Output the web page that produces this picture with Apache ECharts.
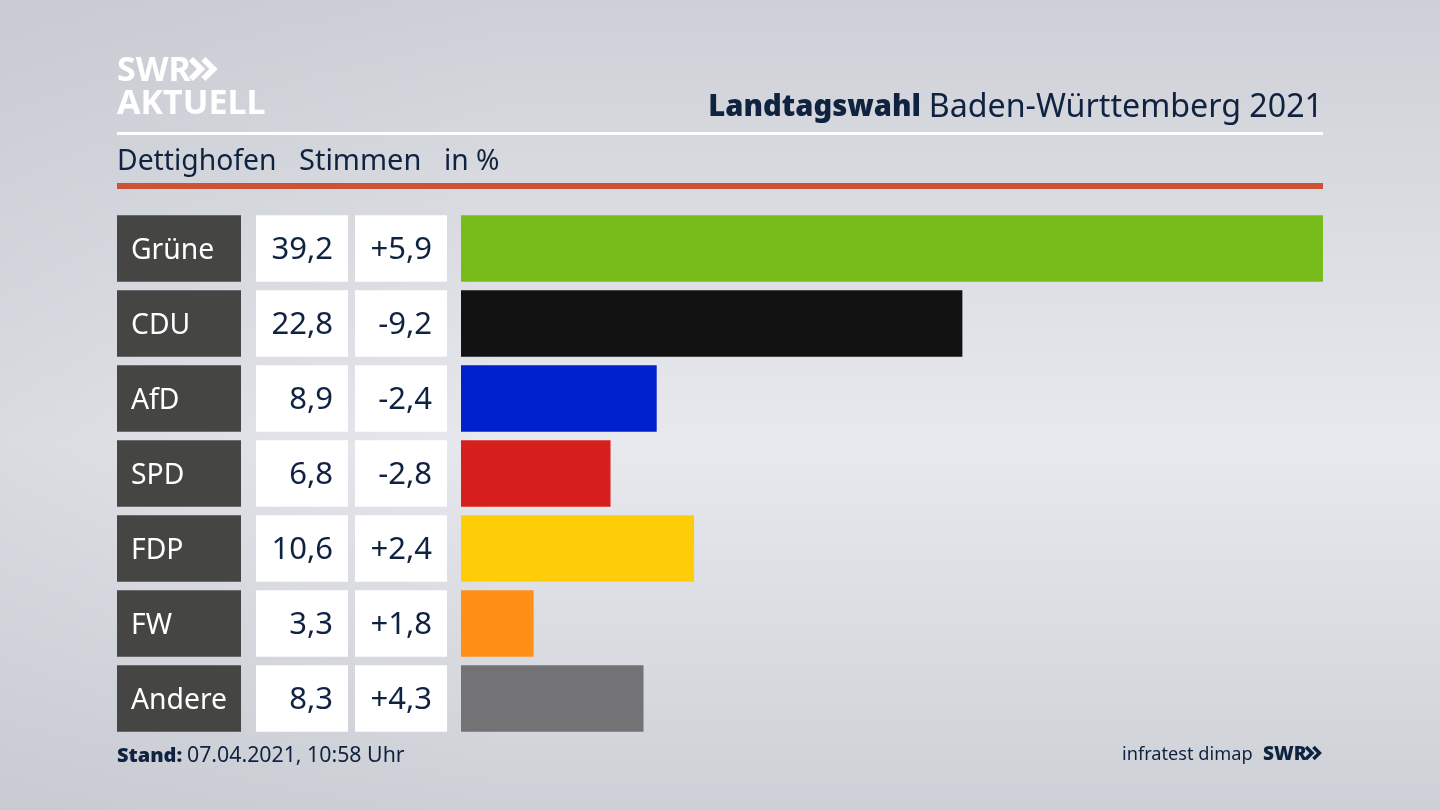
<!DOCTYPE html>
<html>
<head>
<meta charset="utf-8">
<style>
  html, body { margin: 0; padding: 0; }
  #chart { width: 1440px; height: 810px; }
</style>
<script src="https://cdn.jsdelivr.net/npm/echarts@6/dist/echarts.min.js"></script>
</head>
<body>
<div id="chart"></div>
<script>
const parties = ['Grüne', 'CDU', 'AfD', 'SPD', 'FDP', 'FW', 'Andere'];
const shares = [39.2, 22.8, 8.9, 6.8, 10.6, 3.3, 8.3];
const changes = [5.9, -9.2, -2.4, -2.8, 2.4, 1.8, 4.3];
const barColors = ['#78bc1b', '#121212', '#0022cc', '#d7201e', '#ffcc08', '#ff9015', '#737375'];

const FONT = '"Noto Sans", sans-serif';
const INK = '#0f2240';

const comma = v => v.toFixed(1).replace('.', ',');
const signed = v => (v > 0 ? '+' : '-') + comma(Math.abs(v));

// one grid per table column, the last one holds the real bars
const columns = [
  { left: 117, width: 124 },
  { left: 256, width: 92 },
  { left: 355, width: 92 },
  { left: 461, width: 862 },
];

const grid = columns.map(c => ({ left: c.left, width: c.width, top: 211, height: 525 }));
const xAxis = columns.map((c, i) => ({
  gridIndex: i, type: 'value', min: 0, max: i === 3 ? 39.2 : 1, show: false,
}));
const yAxis = columns.map((c, i) => ({
  gridIndex: i, type: 'category', inverse: true, data: parties, show: false,
}));

function cellSeries(index, color, labelColor, position, distance, fontSize, text) {
  return {
    type: 'bar', xAxisIndex: index, yAxisIndex: index, barWidth: 66.5, silent: true,
    data: parties.map(() => 1),
    itemStyle: { color },
    label: {
      show: true, position, distance, color: labelColor, offset: [0, 2],
      fontFamily: FONT, fontSize,
      formatter: p => text[p.dataIndex],
    },
  };
}

const chevrons = (x, y, h, color, w) => [0, 1].map(n => ({
  type: 'polyline',
  shape: { points: [[x + n * h * 0.62, y], [x + n * h * 0.62 + h * 0.5, y + h / 2], [x + n * h * 0.62, y + h]] },
  style: { stroke: color, lineWidth: w, fill: null },
}));

const rect = (x, y, width, height, fill) => ({ type: 'rect', shape: { x, y, width, height }, style: { fill } });
const text = (x, y, value, fontSize, fill, fontWeight, align) => ({
  type: 'text', x, y,
  style: { text: value, font: `${fontWeight || 'normal'} ${fontSize}px ${FONT}`, fill, align: align || 'left', verticalAlign: 'middle' },
});

const chart = echarts.init(document.getElementById('chart'));
chart.setOption({
  animation: false,
  backgroundColor: {
    type: 'linear', x: 0, y: 0, x2: 0, y2: 1,
    colorStops: [{ offset: 0, color: '#cdd0d6' }, { offset: 0.55, color: '#e8e9ee' }, { offset: 1, color: '#cdd0d6' }],
  },
  grid, xAxis, yAxis,
  series: [
    cellSeries(0, '#454543', '#ffffff', 'insideLeft', 14, 28.3, parties),
    cellSeries(1, '#ffffff', INK, 'insideRight', 15, 31, shares.map(comma)),
    cellSeries(2, '#ffffff', INK, 'insideRight', 15, 31, changes.map(signed)),
    {
      type: 'bar', xAxisIndex: 3, yAxisIndex: 3, barWidth: 66.5, silent: true,
      data: shares.map((v, i) => ({ value: v, itemStyle: { color: barColors[i] } })),
    },
  ],
  graphic: [
    {
      type: 'rect', z: -1, shape: { x: 0, y: 0, width: 500, height: 810 },
      style: { fill: { type: 'linear', x: 0, y: 0, x2: 1, y2: 0, colorStops: [{ offset: 0, color: 'rgba(190,194,202,0.35)' }, { offset: 1, color: 'rgba(190,194,202,0)' }] } },
    },
    rect(117, 132, 1206, 3, '#ffffff'),
    rect(117, 183, 1206, 6, '#cc5238'),
    text(117, 71, 'SWR', 34, '#ffffff', 'bold'),
    text(117, 104, 'AKTUELL', 34, '#ffffff', 'bold'),
    ...chevrons(191, 59, 20, '#ffffff', 6),
    text(921, 108, 'Landtagswahl', 29.2, INK, 900, 'right'),
    text(1323, 108, 'Baden-Württemberg 2021', 32.2, INK, 'normal', 'right'),
    text(117, 162, 'Dettighofen', 28.3, INK),
    text(299, 162, 'Stimmen', 29, INK),
    text(444, 162, 'in %', 28.2, INK),
    text(117, 756, 'Stand:', 20, INK, 900),
    text(187, 756, '07.04.2021, 10:58 Uhr', 21.3, INK),
    text(1122, 755, 'infratest dimap', 18.2, INK),
    text(1263, 755, 'SWR', 19, INK, 900),
    ...chevrons(1306, 747, 12, INK, 3.5),
  ],
});
</script>
</body>
</html>
